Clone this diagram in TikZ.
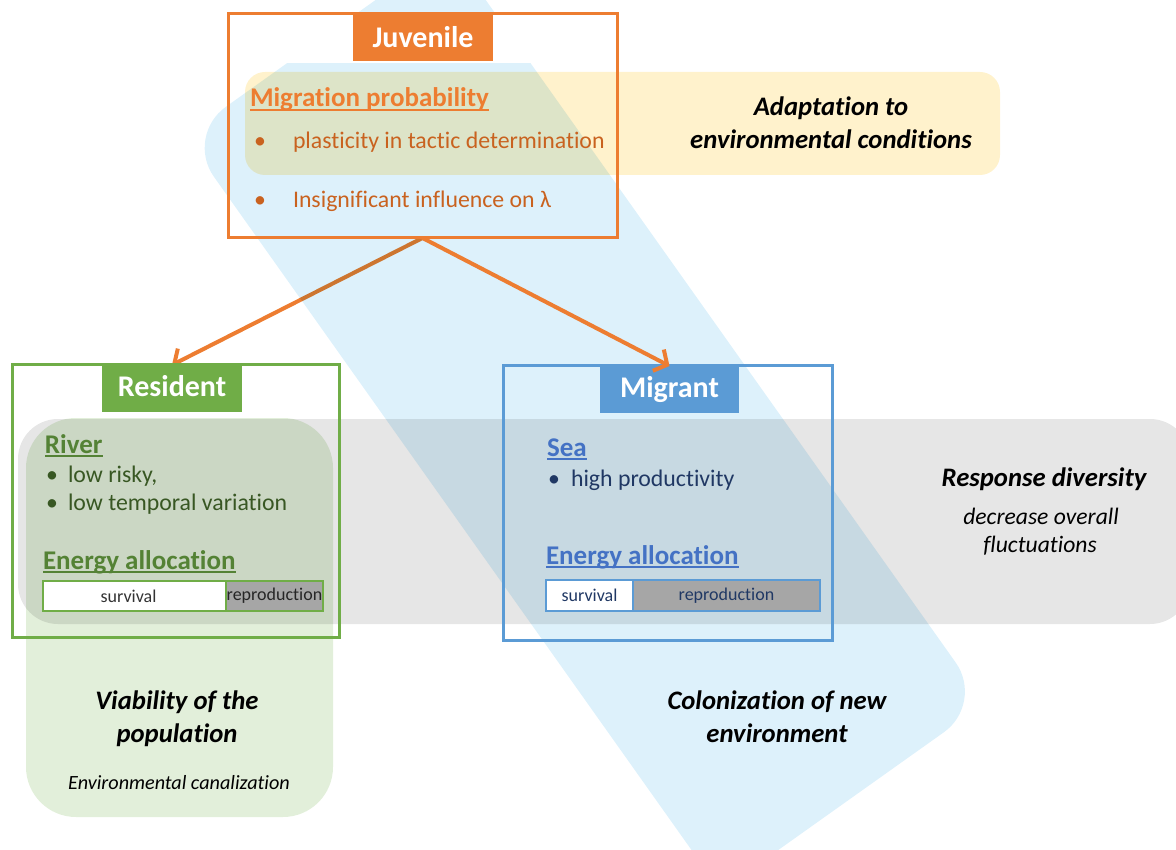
\documentclass[tikz,border=0pt]{standalone}
\usepackage{fontspec}
\setmainfont{Carlito}[Ligatures=NoCommon]
\usetikzlibrary{arrows.meta}
\definecolor{orn}{HTML}{ED7D31}
\definecolor{orntext}{HTML}{C9621F}
\definecolor{grn}{HTML}{70AD47}
\definecolor{grnhead}{HTML}{548235}
\definecolor{grntext}{HTML}{385723}
\definecolor{blu}{HTML}{5B9BD5}
\definecolor{bluhead}{HTML}{4472C4}
\definecolor{blutext}{HTML}{203864}
\definecolor{bandblue}{HTML}{DDF1FB}
\definecolor{bandgrey}{HTML}{E6E6E6}
\definecolor{bandgreen}{HTML}{E2EFDA}
\definecolor{bandyellow}{HTML}{FFF2CC}
\definecolor{bargrey}{HTML}{A6A6A6}
\newcommand\myfs[1]{\fontsize{#1}{#1}\selectfont}
\pgfdeclarelayer{bandsA}
\pgfdeclarelayer{arrowlow}
\pgfdeclarelayer{bandsB}
\pgfsetlayers{bandsA,arrowlow,bandsB,main}
\begin{document}
\begin{tikzpicture}[x=1pt,y=-1pt,
  txt/.style={inner sep=0pt, outer sep=0pt},
  head/.style={txt, anchor=base west, font=\myfs{27}\bfseries},
  body/.style={txt, anchor=base west, font=\myfs{23.8}},
  hdrtxt/.style={txt, anchor=base, text=white, font=\myfs{30}\bfseries},
  hdrbox/.style={anchor=north west, inner sep=0pt, outer sep=0pt, minimum width=140pt, minimum height=48pt},
  frame/.style={anchor=north west, inner sep=0pt, outer sep=0pt, line width=3pt},
  bar/.style={anchor=north west, inner sep=0pt, outer sep=0pt, line width=1.5pt, minimum height=30pt, font=\myfs{18}},
  bigit/.style={txt, anchor=base, font=\myfs{26.7}\bfseries\itshape},
  smallit/.style={txt, anchor=base, font=\myfs{23.6}\itshape},
  arr/.style={draw=orn, line width=4pt, -{Straight Barb[length=10pt, width=24pt, line width=4pt]}},
  uline/.style={line width=1.8pt}]
\useasboundingbox (0,0) rectangle (1176,850);
\clip (0,0) rectangle (1176,850);

% background bands
\begin{pgfonlayer}{bandsA}
\begin{scope}[blend mode=multiply]
\fill[bandgrey, rounded corners=40pt] (18,419) rectangle (1190,624);
\fill[bandgreen, rounded corners=50pt] (26,418) rectangle (333,817);
\fill[bandyellow, rounded corners=20pt] (245,72) rectangle (1000,175);
\end{scope}
\end{pgfonlayer}
\begin{pgfonlayer}{bandsB}
\begin{scope}[blend mode=multiply]
\fill[bandblue, rounded corners=50pt] (185,136) -- (448.7,-52.2) -- (984.6,703.3) -- (720.6,891) -- cycle;
\end{scope}
\fill[white] (229.5,14.5) rectangle (616.5,63);
\end{pgfonlayer}

% Juvenile
\node[frame, draw=orn, minimum width=389pt, minimum height=224.5pt] (juv) at (228,13.5) {};
\node[hdrbox, fill=orn] (juvh) at (353,13) {};
\node[hdrtxt] (juvt) at (423,48) {Juvenile};
\node[head, text=orn] (migp) at (250,107) {Migration probability};
\draw[uline, orn] ([yshift=-3pt]migp.base west) -- ([yshift=-3pt]migp.base east);
\node[body, text=orntext] (b1) at (254,149) {•};
\node[body, text=orntext] (t1) at (293,149) {plasticity in tactic determination};
\node[body, text=orntext] (b2) at (254,208) {•};
\node[body, text=orntext] (t2) at (293,208) {Insignificant influence on λ};

% Resident
\node[frame, draw=grn, minimum width=327pt, minimum height=272pt] (res) at (12.5,365) {};
\node[hdrbox, fill=grn, minimum height=47pt] (resh) at (102,365) {};
\node[hdrtxt] (rest) at (172,397) {Resident};
\node[head, text=grnhead] (river) at (45,453) {River};
\draw[uline, grnhead] ([yshift=-3pt]river.base west) -- ([yshift=-3pt]river.base east);
\node[body, text=grntext] (rb1) at (46,482) {•};
\node[body, text=grntext] (rt1) at (68,482) {low risky,};
\node[body, text=grntext] (rb2) at (46,510) {•};
\node[body, text=grntext] (rt2) at (68,510) {low temporal variation};
\node[head, text=grnhead] (rea) at (43,569) {Energy allocation};
\draw[uline, grnhead] ([yshift=-3pt]rea.base west) -- ([yshift=-3pt]rea.base east);
\node[bar, draw=grn, fill=white, minimum width=183pt, text=black!80] (rsurv) at (43,581) {survival\hspace*{12pt}};
\node[bar, draw=grn, fill=bargrey, minimum width=97pt, text=black!85] (rrep) at (226,581) {reproduction};

% Migrant
\node[frame, draw=blu, minimum width=329pt, minimum height=274pt] (mig) at (503,366) {};
\node[hdrbox, fill=blu, minimum width=139pt, minimum height=47pt] (migh) at (600,366) {};
\node[hdrtxt] (migt) at (669.5,398) {Migrant};
\node[head, text=bluhead] (sea) at (547,456) {Sea};
\draw[uline, bluhead] ([yshift=-3pt]sea.base west) -- ([yshift=-3pt]sea.base east);
\node[body, text=blutext] (mb1) at (548,486) {•};
\node[body, text=blutext] (mt1) at (571,486) {high productivity};
\node[head, text=bluhead] (mea) at (546,564) {Energy allocation};
\draw[uline, bluhead] ([yshift=-3pt]mea.base west) -- ([yshift=-3pt]mea.base east);
\node[bar, draw=blu, fill=white, minimum width=87pt, minimum height=31pt, text=blutext] (msurv) at (546,580) {survival};
\node[bar, draw=blu, fill=bargrey, minimum width=187pt, minimum height=31pt, text=blutext] (mrep) at (633,580) {\raisebox{3pt}{reproduction}};

% labels of the bands
\node[bigit] (ad1) at (831,116) {Adaptation to};
\node[bigit] (ad2) at (831,149) {environmental conditions};
\node[bigit] (rd1) at (1044,486) {Response diversity};
\node[smallit] (rd2) at (1041,524) {decrease overall};
\node[smallit] (rd3) at (1040,552) {fluctuations};
\node[bigit] (vp1) at (177,709) {Viability of the};
\node[bigit] (vp2) at (177,742) {population};
\node[txt, anchor=base, font=\myfs{20.2}\itshape] (vp3) at (179,789) {Environmental canalization};
\node[bigit] (cn1) at (777,709) {Colonization of new};
\node[bigit] (cn2) at (777,742) {environment};

% arrows
\begin{pgfonlayer}{arrowlow}
\draw[arr] (juv.south) -- (resh.north);
\end{pgfonlayer}
\draw[arr] (juv.south) -- (migh.north);
\end{tikzpicture}
\end{document}
